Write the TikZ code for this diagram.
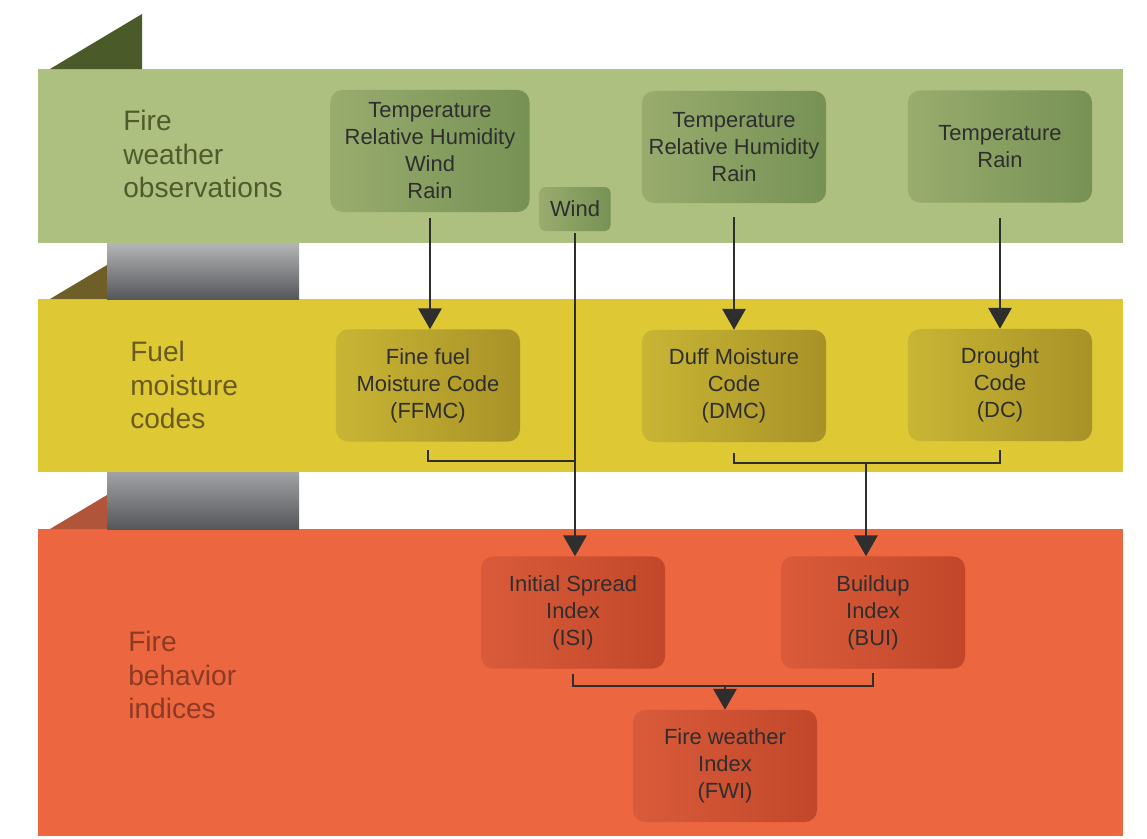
\documentclass[tikz,border=0pt]{standalone}
\usepackage{fontspec}
\setmainfont{Liberation Sans}
\usetikzlibrary{arrows.meta}

\definecolor{obsband}{HTML}{AEC07F}
\definecolor{obsfold}{HTML}{4A5A28}
\definecolor{obstext}{HTML}{4F5B2C}
\definecolor{obsL}{HTML}{99AC6E}
\definecolor{obsR}{HTML}{779155}
\definecolor{fuelband}{HTML}{DEC834}
\definecolor{fuelfold}{HTML}{6E5F28}
\definecolor{fueltext}{HTML}{6B5A22}
\definecolor{fuelL}{HTML}{C9B534}
\definecolor{fuelR}{HTML}{A89228}
\definecolor{behband}{HTML}{EC6640}
\definecolor{behfold}{HTML}{B0553A}
\definecolor{behtext}{HTML}{8C3A22}
\definecolor{behL}{HTML}{D95B3A}
\definecolor{behR}{HTML}{C2472A}
\definecolor{pipeTop}{HTML}{B4B5B7}
\definecolor{pipeBot}{HTML}{56575A}
\definecolor{ink}{HTML}{2E2E2E}

\newcommand{\boxfont}{\fontsize{15.6}{19.2}\selectfont}
\newcommand{\bandfont}{\fontsize{20}{24}\selectfont}

\begin{document}
\begin{tikzpicture}[x=0.025cm,y=-0.025cm,
  codebox/.style={rectangle,rounded corners=0.3cm,minimum width=4.6cm,minimum height=2.8cm,align=center,inner sep=0,font=\boxfont,text=ink},
  obs/.style={codebox,left color=obsL,right color=obsR},
  fuel/.style={codebox,left color=fuelL,right color=fuelR},
  beh/.style={codebox,left color=behL,right color=behR},
  bandlabel/.style={anchor=west,align=left,inner sep=0,font=\bandfont},
  link/.style={draw=ink,line width=1.4pt},
  arr/.style={link,-{Triangle[width=0.58cm,length=0.52cm]}}]
\useasboundingbox[fill=white] (0,0) rectangle (1147,838);
\def\bandL{38}
\def\bandR{1123}
% bands
\fill[obsband] (\bandL,69) rectangle (\bandR,243);
\fill[fuelband] (\bandL,299) rectangle (\bandR,472);
\fill[behband] (\bandL,529) rectangle (\bandR,836);
% folds and pipes
\fill[obsfold] (50,69) -- (142,14) -- (142,69) -- cycle;
\fill[fuelfold] (50,299) -- (107,265) -- (107,299) -- cycle;
\fill[behfold] (50,529) -- (107,495) -- (107,529) -- cycle;
\shade[top color=pipeTop,bottom color=pipeBot] (107,243) rectangle (299,299);
\shade[top color=pipeTop!80!pipeBot,bottom color=pipeBot] (107,472) rectangle (299,529);

\path
(123,154) node [bandlabel,text=obstext] (lobs) {Fire\\weather\\observations}
(130,385) node [bandlabel,text=fueltext] (lfuel) {Fuel\\moisture\\codes}
(128,675) node [bandlabel,text=behtext] (lbeh) {Fire\\behavior\\indices}
;

\path
(430,151) node [obs,minimum width=4.975cm,minimum height=3.05cm] (tRHWR) {Temperature\\Relative Humidity\\Wind\\Rain}
(575,209) node [obs,minimum width=1.775cm,minimum height=1.1cm,rounded corners=0.15cm] (wind) {Wind}
(734,147) node [obs] (tRHR) {Temperature\\Relative Humidity\\Rain}
(1000,146.5) node [obs] (tR) {Temperature\\Rain}
(428,385.5) node [fuel] (ffmc) {Fine fuel\\Moisture Code\\(FFMC)}
(734,386) node [fuel] (dmc) {Duff Moisture\\Code\\(DMC)}
(1000,385) node [fuel] (dc) {Drought\\Code\\(DC)}
(573,612.5) node [beh] (isi) {Initial Spread\\Index\\(ISI)}
(873,612.5) node [beh] (bui) {Buildup\\Index\\(BUI)}
(725,766) node [beh] (fwi) {Fire weather\\Index\\(FWI)}
;

\coordinate (j1) at (wind.south |- 0,461);
\coordinate (j2) at (866,463);
\coordinate (j3) at (fwi.north |- 0,686);

\draw[arr] ([yshift=-0.15cm]tRHWR.south) -- (tRHWR.south |- ffmc.north);
\draw[arr] ([yshift=-0.35cm]tRHR.south) -- (dmc.north);
\draw[arr] ([yshift=-0.375cm]tR.south) -- (dc.north);
\draw[arr] ([yshift=-0.05cm]wind.south) -- (wind.south |- isi.north);

\draw[link] ([yshift=-0.2cm]ffmc.south) |- (j1);
\draw[link] ([yshift=-0.275cm]dmc.south) |- (j2) -| ([yshift=-0.225cm]dc.south);
\draw[arr] (j2) -- (j2 |- bui.north);
\draw[link] ([yshift=-0.125cm]isi.south) |- (j3) -| ([yshift=-0.1cm]bui.south);
\draw[arr] (j3) -- (fwi.north);

\end{tikzpicture}
\end{document}
